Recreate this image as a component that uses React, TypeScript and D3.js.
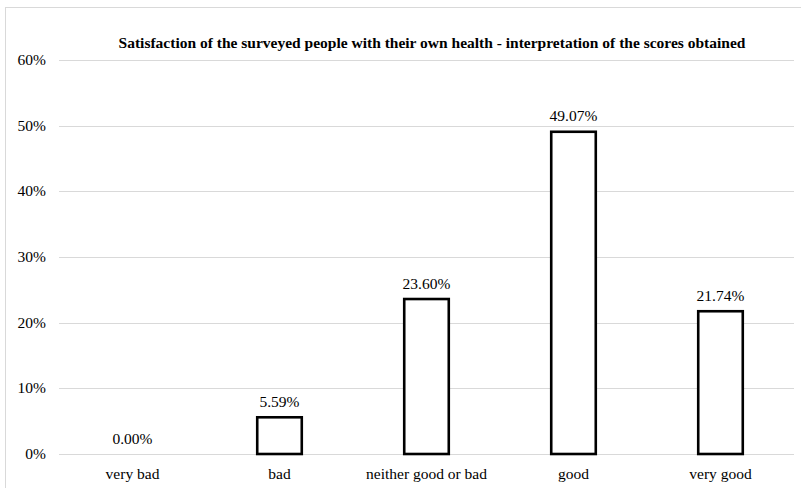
import React from "react";
import * as d3 from "d3";

const categories = ["very bad", "bad", "neither good or bad", "good", "very good"];
const values = [0.0, 5.59, 23.6, 49.07, 21.74];
const yTicks = [0, 10, 20, 30, 40, 50, 60];
const title =
  "Satisfaction of the surveyed people with their own health - interpretation of the scores obtained";

const W = 801;
const H = 488;
const margin = { left: 59, right: 7, top: 60, bottom: 34 };
const FONT = '"Liberation Serif", "Times New Roman", Times, serif';

export default function App() {
  const x = d3
    .scaleBand<string>()
    .domain(categories)
    .range([margin.left, W - margin.right])
    .paddingInner(0)
    .paddingOuter(0);
  const y = d3
    .scaleLinear()
    .domain([0, 60])
    .range([H - margin.bottom, margin.top]);
  const barW = x.bandwidth() * 0.303;
  const textStyle = { fontFamily: FONT };

  return (
    <svg
      width={W}
      height={H}
      style={{ position: "absolute", left: 0, top: 0, background: "#fff", fontFamily: FONT }}
    >
      <rect x={5.5} y={7.5} width={W + 10} height={H + 10} fill="#fff" stroke="#d9d9d9" strokeWidth={1} />
      <text
        x={432}
        y={48}
        textAnchor="middle"
        fontWeight="bold"
        fontSize={15.5}
        fill="#000"
        style={textStyle}
      >
        {title}
      </text>
      {yTicks.map((t) => (
        <g key={t}>
          <line
            x1={margin.left}
            x2={W - margin.right}
            y1={Math.round(y(t)) + 0.5}
            y2={Math.round(y(t)) + 0.5}
            stroke="#d9d9d9"
            strokeWidth={1.2}
          />
          <text x={46} y={y(t) + 5} textAnchor="end" fontSize={15.5} fill="#000" style={textStyle}>
            {t}%
          </text>
        </g>
      ))}
      {categories.map((c, i) => {
        const cx = (x(c) as number) + x.bandwidth() / 2;
        const v = values[i];
        return (
          <g key={c}>
            {v > 0 && (
              <rect
                x={cx - barW / 2}
                y={y(v)}
                width={barW}
                height={y(0) - y(v)}
                fill="#fff"
                stroke="#000"
                strokeWidth={2.6}
              />
            )}
            <text x={cx} y={y(v) - 10.5} textAnchor="middle" fontSize={15.5} fill="#000" style={textStyle}>
              {v.toFixed(2)}%
            </text>
            <text x={cx} y={479} textAnchor="middle" fontSize={15.5} fill="#000" style={textStyle}>
              {c}
            </text>
          </g>
        );
      })}
    </svg>
  );
}
